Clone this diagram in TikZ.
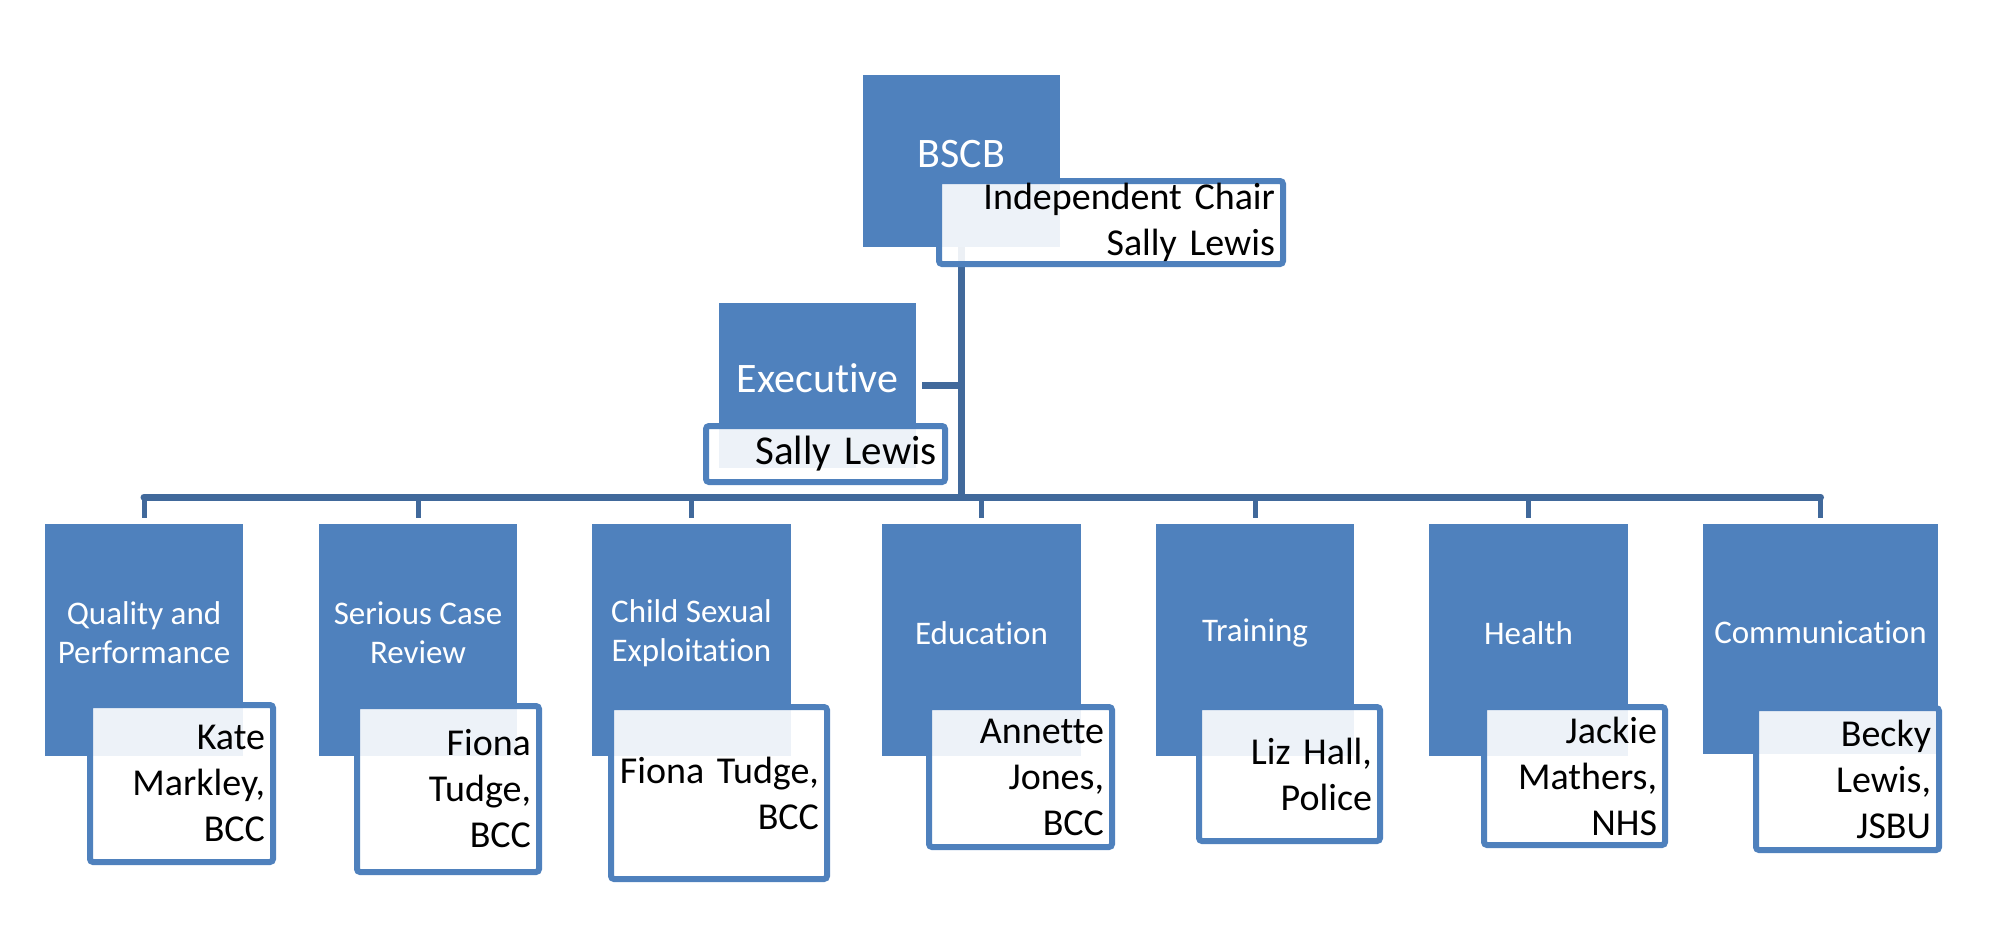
\documentclass[tikz,border=0pt]{standalone}
\usepackage{fontspec}
\setmainfont{Carlito}[Ligatures=NoCommon]
\usetikzlibrary{backgrounds}
\definecolor{boxblue}{HTML}{4F81BD}
\definecolor{linkblue}{HTML}{41699B}
\begin{document}
\begin{tikzpicture}[x=1pt,y=-1pt,
  bluebox/.style={fill=boxblue, draw=none, inner sep=0pt, outer sep=0pt, anchor=north west},
  titletext/.style={text=white, align=center, inner sep=0pt, font=\fontsize{33}{39}\selectfont},
  bigtitle/.style={text=white, align=center, inner sep=0pt, font=\fontsize{42}{50}\selectfont},
  subbox/.style={draw=boxblue, line width=6pt, fill=white, fill opacity=0.9, text opacity=1,
    rounded corners=3pt, anchor=north west, align=right, inner xsep=8pt, inner ysep=0pt,
    outer sep=0pt, text=black, font=\fontsize{38}{46}\selectfont},
  conn/.style={draw=linkblue, line width=7pt},
  stub/.style={draw=linkblue, line width=5pt}]
\useasboundingbox (0,0) rectangle (2000,940);
\coordinate (bus) at (0,497);

% top level
\node[bluebox, minimum width=197pt, minimum height=172pt] (bscb) at (863,75) {};
\node[bigtitle] (bscbt) at ([yshift=7pt]bscb.center) {BSCB};
\node[subbox, text width=328pt, minimum height=83pt] (chair) at (939,181) {Independent Chair\\Sally Lewis};

% executive
\node[bluebox, minimum width=197pt, minimum height=165pt] (exec) at (719,303) {};
\node[bigtitle] (exect) at ([yshift=7pt]exec.center) {Executive};
\node[subbox, text width=223pt, minimum height=56pt, font=\fontsize{41}{49}\selectfont] (execs) at (706,426) {Sally Lewis};

% groups
\node[bluebox, minimum width=198pt, minimum height=232pt] (qbox) at (45,524) {};
\node[titletext] (qt) at ([yshift=7pt]qbox.center) {Quality and\\Performance};
\node[subbox, text width=167pt, minimum height=157pt] (qs) at (90,705) {Kate\\Markley,\\BCC};

\node[bluebox, minimum width=198pt, minimum height=232pt] (sbox) at (319,524) {};
\node[titletext] (st) at ([yshift=7pt]sbox.center) {Serious Case\\Review};
\node[subbox, text width=166pt, minimum height=166pt] (ss) at (357,706) {Fiona\\Tudge,\\BCC};

\node[bluebox, minimum width=199pt, minimum height=232pt] (xbox) at (592,524) {};
\node[titletext] (xt) at ([yshift=7pt]xbox.center) {Child Sexual\\Exploitation};
\node[subbox, text width=200pt, minimum height=172pt] (xs) at (611,707) {Fiona Tudge,\\BCC};

\node[bluebox, minimum width=199pt, minimum height=232pt] (ebox) at (882,524) {};
\node[titletext] (et) at ([yshift=7pt]ebox.center) {Education};
\node[subbox, text width=167pt, minimum height=140pt] (es) at (929,707) {Annette\\Jones,\\BCC};

\node[bluebox, minimum width=198pt, minimum height=232pt] (tbox) at (1156,524) {};
\node[titletext] (tt) at ([yshift=7pt]tbox.center) {Training};
\node[subbox, text width=165pt, minimum height=134pt] (ts) at (1199,707) {Liz Hall,\\Police};

\node[bluebox, minimum width=199pt, minimum height=232pt] (hbox) at (1429,524) {};
\node[titletext] (ht) at ([yshift=7pt]hbox.center) {Health};
\node[subbox, text width=165pt, minimum height=138pt] (hs) at (1484,707) {Jackie\\Mathers,\\NHS};

\node[bluebox, minimum width=235pt, minimum height=230pt] (cbox) at (1703,524) {};
\node[titletext] (ct) at ([yshift=7pt]cbox.center) {Communication};
\node[subbox, text width=167pt, minimum height=142pt] (cs) at (1756,708) {Becky\\Lewis,\\JSBU};

\begin{pgfonlayer}{background}
\draw[conn] (bscb.south) -- (bscb.south |- bus);
\draw[conn] ([xshift=6pt]exec.east) -- (exec.east -| bscb.south);
\draw[conn, line cap=round] (qbox.north |- bus) -- (cbox.north |- bus);
\foreach \n in {qbox,sbox,xbox,ebox,tbox,hbox,cbox}
  \draw[stub] (\n.north |- bus) -- ([yshift=6pt]\n.north);
\end{pgfonlayer}
\end{tikzpicture}
\end{document}
